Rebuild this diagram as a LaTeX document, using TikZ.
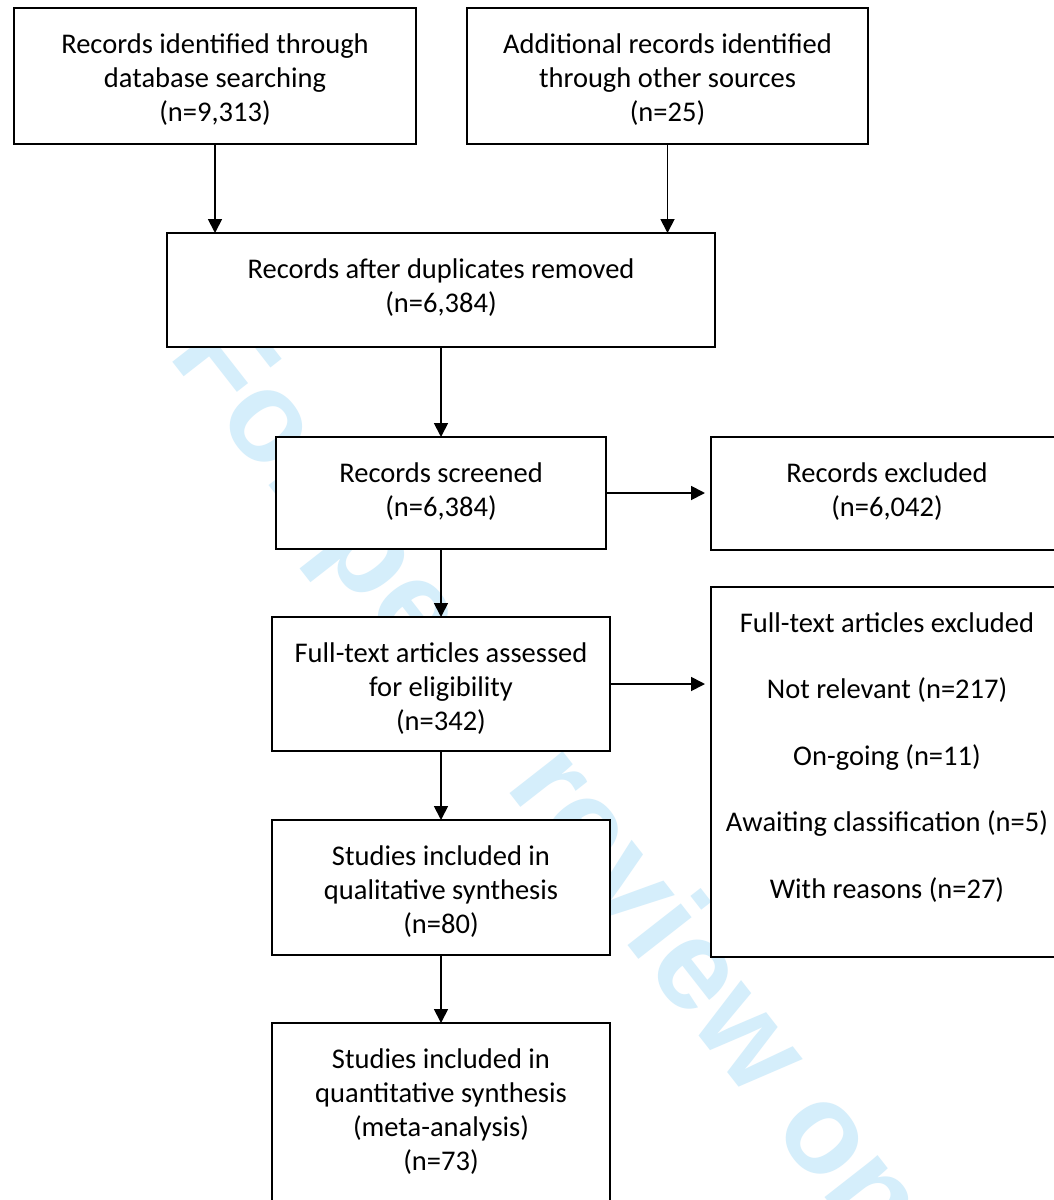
\documentclass[tikz,border=0pt]{standalone}
\usepackage{fontspec}
\setmainfont{Carlito}
\newfontfamily\wmfont{Liberation Sans}
\usetikzlibrary{arrows.meta}
\definecolor{wmblue}{RGB}{213,238,251}
\begin{document}
\begin{tikzpicture}[x=1pt,y=-1pt,
  box/.style={draw=black, fill=white, line width=1.8pt, inner sep=0pt, outer sep=0pt},
  txt/.style={anchor=north, align=center, inner sep=0pt, font=\fontsize{28.5}{34}\selectfont},
  arr/.style={line width=1.8pt, -{Triangle[width=14pt,length=14pt]}},
  wm/.style={text=wmblue, inner sep=0pt, anchor=base west, rotate=-52,
    font=\wmfont\bfseries\fontsize{128}{128}\selectfont}]
\useasboundingbox (0,0) rectangle (1054,1200);
\clip (0,0) rectangle (1054,1200);
\fill[white] (0,0) rectangle (1054,1200);
% watermark
\node[wm] (wm) at (167,355) {For peer review only};
% boxes
\node[box, minimum width=402pt, minimum height=136pt] (b1) at (215,76) {};
\node[box, minimum width=401pt, minimum height=136pt] (b2) at (667.5,76) {};
\node[box, minimum width=548pt, minimum height=114pt] (b3) at (441,290) {};
\node[box, minimum width=330pt, minimum height=112pt] (b4) at (441,493) {};
\node[box, minimum width=352pt, minimum height=113pt] (b5) at (887,493.5) {};
\node[box, minimum width=338pt, minimum height=134pt] (b6) at (441,684) {};
\node[box, minimum width=352pt, minimum height=370pt] (b7) at (887,772) {};
\node[box, minimum width=338pt, minimum height=135pt] (b8) at (441,887.5) {};
\node[box, minimum width=338pt, minimum height=217pt] (b9) at (441,1131.5) {};
% texts
\node[txt] (t1) at ([yshift=-21pt]b1.north) {\rule{0pt}{24pt}Records identified through\\database searching\\(n=9,313)};
\node[txt] (t2) at ([yshift=-21pt]b2.north) {\rule{0pt}{24pt}Additional records identified\\through other sources\\(n=25)};
\node[txt] (t3) at ([yshift=-21pt]b3.north) {\rule{0pt}{24pt}Records after duplicates removed\\(n=6,384)};
\node[txt] (t4) at ([yshift=-21pt]b4.north) {\rule{0pt}{24pt}Records screened\\(n=6,384)};
\node[txt] (t5) at ([yshift=-21pt]b5.north) {\rule{0pt}{24pt}Records excluded\\(n=6,042)};
\node[txt] (t6) at ([yshift=-21pt]b6.north) {\rule{0pt}{24pt}Full-text articles assessed\\for eligibility\\(n=342)};
\node[txt] (t7) at ([yshift=-21pt]b7.north) {\rule{0pt}{24pt}Full-text articles excluded\\[32.5pt]Not relevant (n=217)\\[32.5pt]On-going (n=11)\\[32.5pt]Awaiting classification (n=5)\\[32.5pt]With reasons (n=27)};
\node[txt] (t8) at ([yshift=-21pt]b8.north) {\rule{0pt}{24pt}Studies included in\\qualitative synthesis\\(n=80)};
\node[txt] (t9) at ([yshift=-21pt]b9.north) {\rule{0pt}{24pt}Studies included in\\quantitative synthesis\\(meta-analysis)\\(n=73)};
% arrows
\draw[arr] (b1.south) -- (b1.south |- b3.north);
\draw[arr] (b2.south) -- (b2.south |- b3.north);
\draw[arr] (b3.south) -- (b4.north);
\draw[arr] (b4.south) -- (b6.north);
\draw[arr] (b6.south) -- (b8.north);
\draw[arr] (b8.south) -- (b9.north);
\draw[arr] (b4.east) -- ([xshift=-6pt]b4.east -| b5.west);
\draw[arr] (b6.east) -- ([xshift=-6pt]b6.east -| b7.west);
\end{tikzpicture}
\end{document}
